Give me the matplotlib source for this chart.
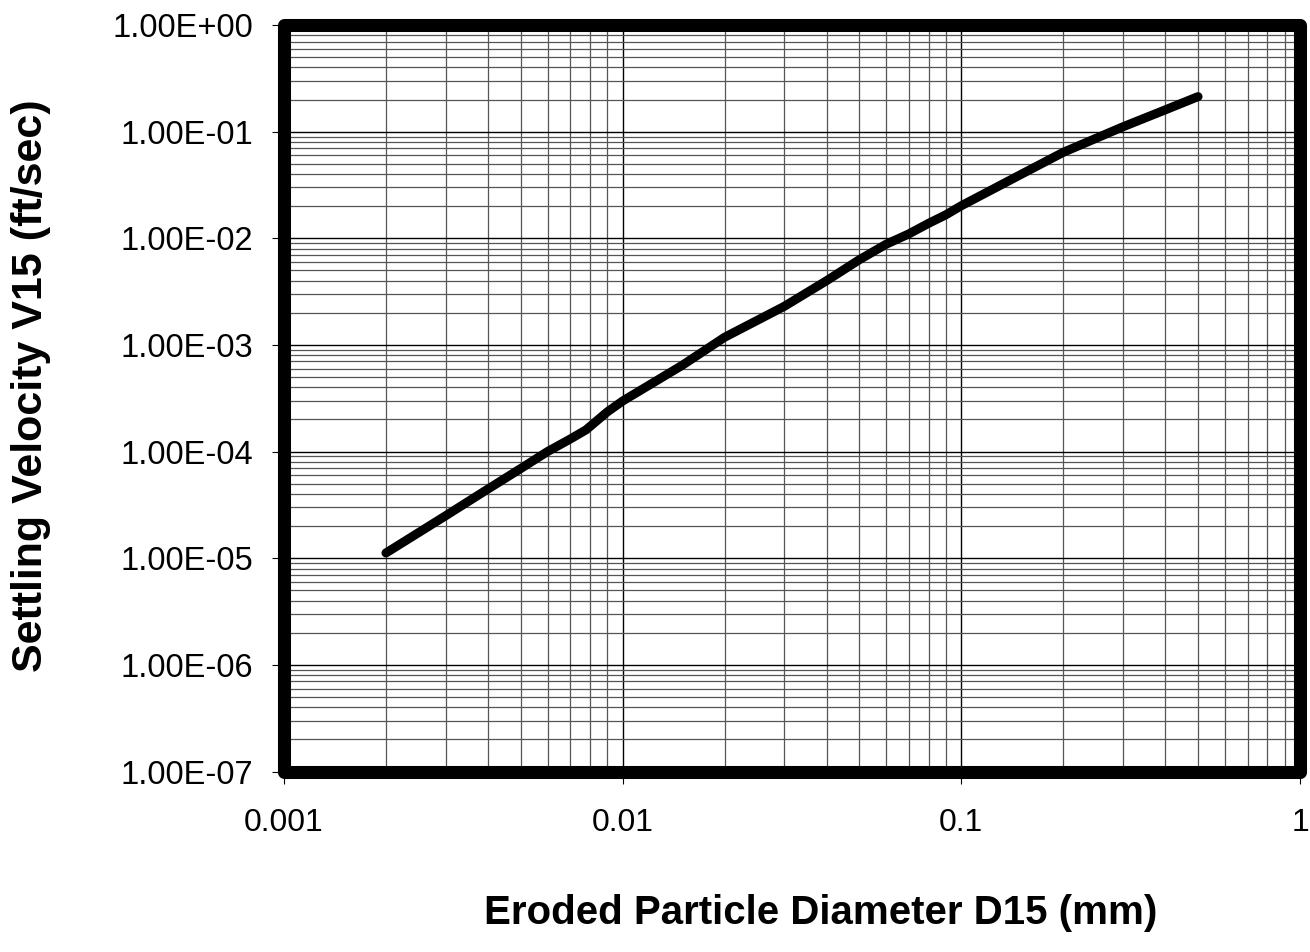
import matplotlib
matplotlib.use("Agg")
import matplotlib.pyplot as plt
from matplotlib.patches import Rectangle
from matplotlib.ticker import LogLocator, FixedLocator, NullFormatter

plt.rcParams['font.family'] = ['Liberation Sans', 'DejaVu Sans']

# Data
diameter_mm = [0.002, 0.003, 0.004, 0.005, 0.006, 0.007, 0.0078, 0.009, 0.01,
               0.015, 0.02, 0.03, 0.04, 0.05, 0.06, 0.07, 0.08, 0.09, 0.1,
               0.15, 0.2, 0.3, 0.4, 0.5]
velocity_fps = [1.12e-5, 2.5e-5, 4.45e-5, 6.93e-5, 1.0e-4, 1.31e-4, 1.6e-4, 2.35e-4, 2.98e-4,
                6.45e-4, 1.18e-3, 2.3e-3, 4.0e-3, 6.3e-3, 8.8e-3, 1.1e-2, 1.38e-2, 1.66e-2, 2.02e-2,
                3.97e-2, 6.4e-2, 1.11e-1, 1.6e-1, 2.13e-1]

x_ticks = [0.001, 0.01, 0.1, 1]
x_tick_labels = ["0.001", "0.01", "0.1", "1"]
y_ticks = [1e-7, 1e-6, 1e-5, 1e-4, 1e-3, 1e-2, 1e-1, 1e0]
y_tick_labels = ["1.00E-07", "1.00E-06", "1.00E-05", "1.00E-04",
                 "1.00E-03", "1.00E-02", "1.00E-01", "1.00E+00"]

W, H = 1310, 952
fig = plt.figure(figsize=(W / 100, H / 100), dpi=100)
left_px, right_px, top_px, bottom_px = 284, 1300, 25, 771.5
ax = fig.add_axes([left_px / W, 1 - bottom_px / H,
                   (right_px - left_px) / W, (bottom_px - top_px) / H])

ax.set_xscale('log')
ax.set_yscale('log')
ax.set_xlim(0.001, 1)
ax.set_ylim(1e-7, 1)

ax.xaxis.set_major_locator(FixedLocator(x_ticks))
ax.yaxis.set_major_locator(FixedLocator(y_ticks))
ax.set_xticklabels(x_tick_labels)
ax.set_yticklabels(y_tick_labels)
ax.xaxis.set_minor_locator(LogLocator(base=10, subs=range(2, 10), numticks=20))
ax.yaxis.set_minor_locator(LogLocator(base=10, subs=range(2, 10), numticks=20))
ax.xaxis.set_minor_formatter(NullFormatter())
ax.yaxis.set_minor_formatter(NullFormatter())

ax.grid(which='major', color='black', linewidth=1.0)
ax.grid(which='minor', color='#555555', linewidth=0.9)
ax.set_axisbelow(True)

ax.tick_params(which='major', length=8.5, width=0.8, direction='out', colors='black')
ax.tick_params(axis='y', which='major', labelsize=23.5, pad=13.5)
ax.tick_params(axis='x', which='major', labelsize=23, pad=18)
ax.tick_params(which='minor', length=0)

for s in ax.spines.values():
    s.set_visible(False)

ax.plot(diameter_mm, velocity_fps, color='black', linewidth=6.5,
        solid_capstyle='round', solid_joinstyle='round', zorder=3)

frame = Rectangle((0, 0), 1, 1, transform=ax.transAxes, fill=False,
                  edgecolor='black', linewidth=9.4, joinstyle='round',
                  clip_on=False, zorder=5)
ax.add_patch(frame)

ax.set_xlabel("Eroded Particle Diameter D15 (mm)", fontsize=29, fontweight='bold')
ax.set_ylabel("Settling Velocity V15 (ft/sec)", fontsize=31, fontweight='bold')
ax.xaxis.set_label_coords((821 - left_px) / (right_px - left_px),
                          (bottom_px - 913) / (bottom_px - top_px))
ax.yaxis.set_label_coords((31 - left_px) / (right_px - left_px),
                          (bottom_px - 386) / (bottom_px - top_px))
ax.xaxis.label.set_va('center')
ax.yaxis.label.set_va('center')

fig.savefig("out.png", dpi=100, facecolor='white')
